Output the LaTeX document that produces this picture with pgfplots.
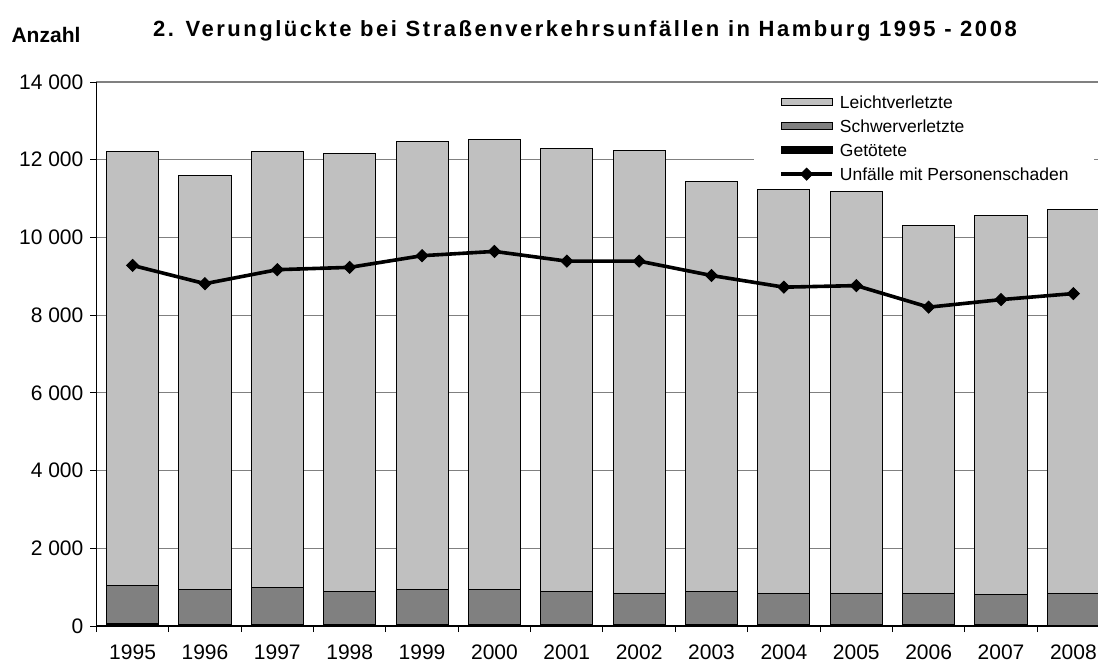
\documentclass[border=0pt]{standalone}
\usepackage{fontspec}
\setmainfont{Liberation Sans}
\newfontfamily\titlefont{Liberation Sans}[LetterSpace=11.5]
\usepackage{pgfplots}
\pgfplotsset{compat=1.18}
\usepackage{pgfplotstable}

\definecolor{lgray}{RGB}{192,192,192}
\definecolor{dgray}{RGB}{128,128,128}

\pgfplotstableread{
x  G   S    L     U
0  55  995  11150 9280
1  45  900  10655 8810
2  50  950  11200 9170
3  45  855  11250 9230
4  40  905  11515 9530
5  45  900  11575 9640
6  40  860  11400 9390
7  35  805  11410 9390
8  35  865  10550 9020
9  35  805  10390 8720
10 35  805  10340 8760
11 35  805  9460  8205
12 30  770  9760  8400
13 25  815  9880  8555
}\datatable

\pgfplotsset{
  base/.style={scale only axis, width=500.8pt, height=272pt,
    xmin=-0.5, xmax=13.34, ymin=0, ymax=14000,
    at={(0pt,0pt)}, anchor=south west},
  legbar/.style={legend image code/.code={\draw[##1] (0pt,-1.75pt) rectangle (25.5pt,1.75pt);}},
  legline/.style={legend image code/.code={\draw[mark repeat=2,mark phase=2,##1] plot coordinates {(0pt,0pt) (12.75pt,0pt) (25.5pt,0pt)};}},
}

\begin{document}
\begin{tikzpicture}
\begin{axis}[base,
  ybar stacked, bar width=0.72,
  axis x line*=bottom, axis y line*=left,
  axis line style={-, black, line width=0.6pt},
  ytick={0,2000,...,14000},
  scaled y ticks=false,
  ymajorgrids, grid style={dgray, line width=0.6pt},
  xtick={0,...,13},
  xticklabels={1995,1996,1997,1998,1999,2000,2001,2002,2003,2004,2005,2006,2007,2008},
  minor xtick={-0.5,0.5,...,13.5},
  major x tick style={draw=none},
  tick align=outside,
  major tick length=3pt, minor tick length=3pt,
  tick style={black, line width=0.5pt},
  yticklabel={\pgfmathprintnumber[fixed, precision=0, 1000 sep={\hspace{0.278em}}, assume math mode=true]{\tick}},
  yticklabel style={font=\fontsize{10.5}{12}\selectfont},
  xticklabel style={font=\fontsize{10.5}{12}\selectfont, anchor=base, yshift=-13.5pt},
]
\addplot[fill=black, draw=black, line width=0.5pt] table[x=x, y=G] {\datatable};
\addplot[fill=dgray, draw=black, line width=0.5pt] table[x=x, y=S] {\datatable};
\addplot[fill=lgray, draw=black, line width=0.5pt] table[x=x, y=L] {\datatable};
\end{axis}

\begin{axis}[base, hide axis,
  legend style={at={(0.6565,0.989)}, anchor=north west, draw=none, fill=white,
    inner xsep=12.5pt, inner ysep=2pt,
    font=\fontsize{8.75}{10}\selectfont,
    nodes={inner sep=0pt, text height=8pt, text depth=1.8pt},
    row sep=2.2pt,
    /tikz/every odd column/.append style={column sep=3pt}},
  legend cell align=left,
]
\addlegendimage{legbar, fill=lgray, draw=black, line width=0.5pt}
\addlegendentry{Leichtverletzte}
\addlegendimage{legbar, fill=dgray, draw=black, line width=0.5pt}
\addlegendentry{Schwerverletzte}
\addlegendimage{legbar, fill=black, draw=black, line width=0.5pt}
\addlegendentry{Getötete}
\addplot[legline, black, line width=1.8pt, mark=square*, mark size=2.1pt,
  mark options={rotate=45, line width=0.5pt}]
  table[x=x, y=U] {\datatable};
\addlegendentry{Unfälle mit Personenschaden}
\end{axis}

\node[anchor=base, font=\titlefont\fontsize{11}{13}\selectfont\bfseries] at (244.3pt,294.8pt)
  {2. Verunglückte bei Straßenverkehrsunfällen in Hamburg 1995 - 2008};
\node[anchor=base, font=\fontsize{10.5}{12.6}\selectfont\bfseries] at (-25.2pt,292pt) {Anzahl};

\pgfresetboundingbox
\path[use as bounding box] (-48.2pt,-20pt) rectangle (500.8pt,313pt);
\end{tikzpicture}
\end{document}
